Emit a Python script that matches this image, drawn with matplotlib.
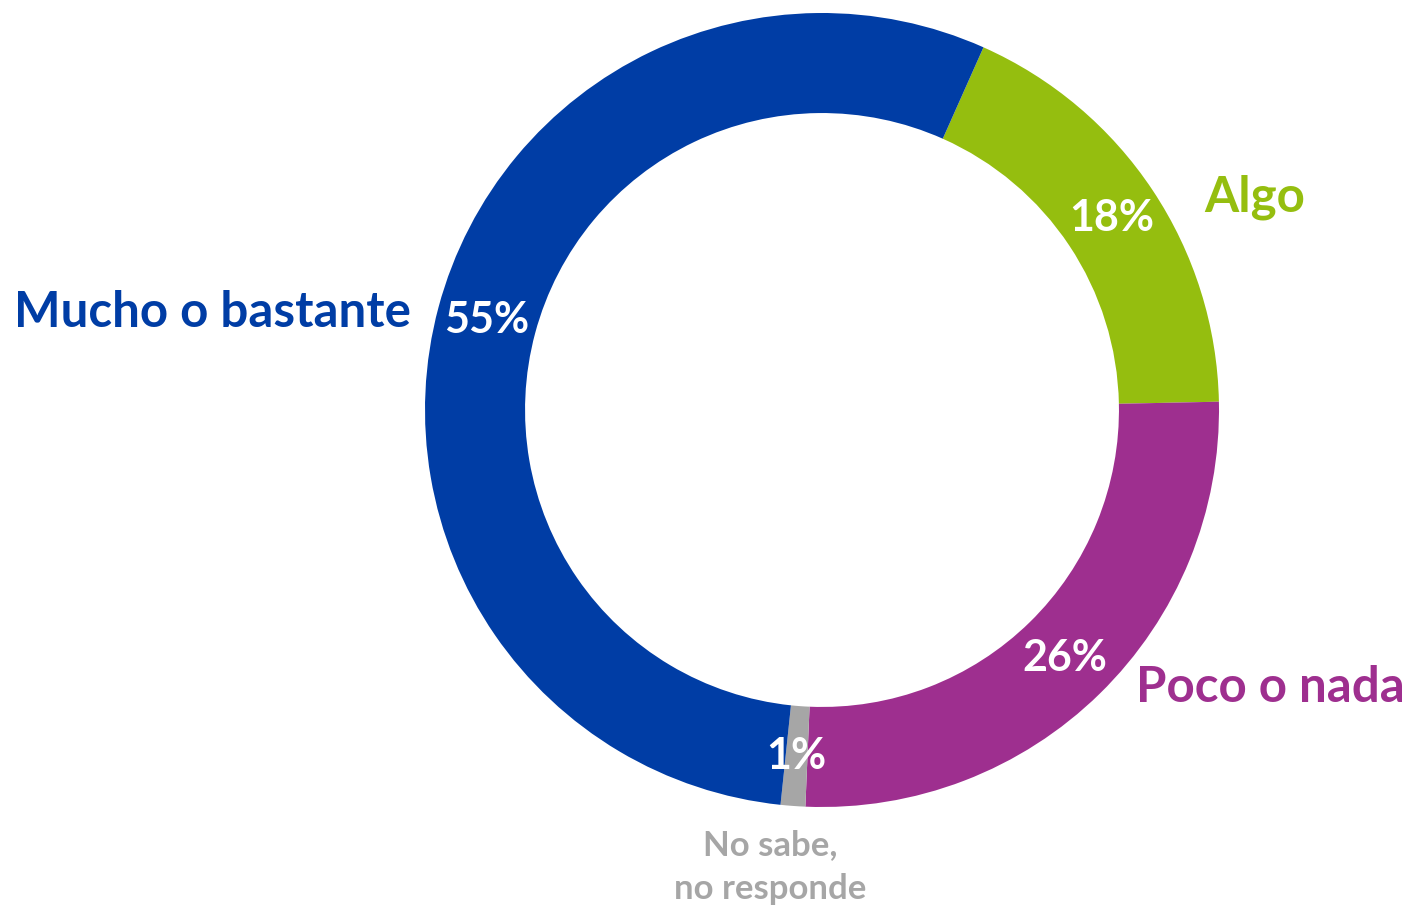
import matplotlib
matplotlib.use("Agg")
import matplotlib.pyplot as plt

# wedges in drawing order, clockwise starting from "Algo"
categories = ["Algo", "Poco o nada", "No sabe,\nno responde", "Mucho o bastante"]
values = [18, 26, 1, 55]
colors = ["#95BE0F", "#9E2F8F", "#A6A6A6", "#003DA5"]

plt.rcParams["font.family"] = ["Lato", "DejaVu Sans"]
plt.rcParams["font.weight"] = "bold"

fig = plt.figure(figsize=(14.16, 9.06), dpi=100)
ax = fig.add_axes([0, 0, 1, 1])

wedges, _, autotexts = ax.pie(
    values, colors=colors, startangle=66, counterclock=False,
    radius=1.0, wedgeprops=dict(width=0.252, linewidth=0),
    autopct=lambda p: f"{p:.0f}%", pctdistance=0.875,
    textprops=dict(color="white", fontsize=31, fontweight="bold"),
)

# outside category labels (placed like the Excel original)
label_pos = {
    "Algo": (1.09, 0.535, "center"),
    "Poco o nada": (1.13, -0.70, "center"),
    "No sabe,\nno responde": (-0.13, -1.152, "center"),
    "Mucho o bastante": (-1.035, 0.245, "right"),
}
for cat, col in zip(categories, colors):
    x, y, ha = label_pos[cat]
    small = cat.startswith("No sabe")
    ax.text(x, y, cat, color=col, ha=ha, va="center",
            fontsize=25 if small else 35.5, fontweight="bold",
            linespacing=1.45 if small else 1.2)

ax.set_xlim(-822 / 397, (1416 - 822) / 397)
ax.set_ylim(-(906 - 410) / 397, 410 / 397)
ax.set_aspect("equal")
ax.axis("off")

fig.savefig("out.png", dpi=100)
